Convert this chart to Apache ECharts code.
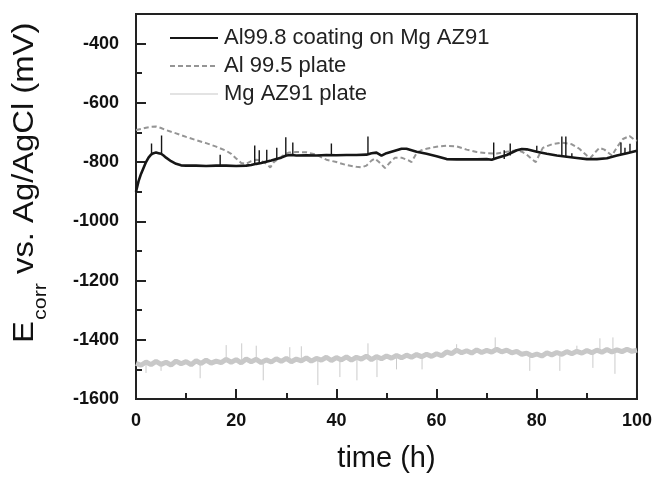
<!DOCTYPE html>
<html><head><meta charset="utf-8">
<script src="https://cdn.jsdelivr.net/npm/echarts@6/dist/echarts.min.js"></script>
<style>html,body{margin:0;padding:0;background:#fff}#c{width:655px;height:479px}</style>
</head><body><div id="c"></div>
<script>
// ---- data ----
const seriesNames = ['Al99.8 coating on Mg AZ91', 'Al 99.5 plate', 'Mg AZ91 plate'];

const coatT = [0,0.5,1,1.5,2,2.5,3,3.5,4,4.5,5,5.5,6,7,8,9,10,12,14,16,18,20,22,23,24,25,26,27,28,29,30,31,32,34,36,38,40,42,44,46,47,48,49,50,51,52,53,54,56,58,60,62,64,66,68,70,71,72,74,76,77,78,80,82,84,86,88,90,92,94,96,98,100];
const coatV = [-900,-865,-840,-820,-800,-785,-775,-770,-768,-770,-772,-778,-785,-797,-806,-811,-812,-812,-813,-812,-812,-813,-812,-810,-806,-803,-799,-795,-790,-785,-778,-776,-778,-777,-778,-776,-777,-776,-776,-775,-770,-768,-778,-770,-765,-760,-755,-755,-765,-772,-780,-790,-791,-791,-791,-790,-792,-786,-776,-760,-756,-757,-765,-772,-778,-782,-786,-790,-790,-787,-778,-770,-762];
const coatSpikeT    = [3.1,5.1,16.8,23.7,24.6,26.1,28.1,29.9,31.3,39,46.3,71.4,73.5,74.7,80,85,85.8,87,96.8,97.6,98.6];
const coatSpikeBase = [-775,-772,-812,-808,-805,-800,-792,-780,-776,-777,-776,-792,-790,-778,-765,-780,-782,-784,-776,-772,-768];
const coatSpikeTip  = [-737,-710,-775,-744,-760,-758,-752,-716,-734,-737,-714,-734,-760,-737,-745,-714,-714,-770,-734,-752,-738];

const alT = [0,1,2,3,4,5,6,8,10,12,14,16,18,19,20,21,22,23,24,25,26,26.8,27.5,28.5,29.5,30.5,32,34,36,38,40,42,44,45,46,47,47.7,48.5,49.7,50.5,51.7,53,54.5,55,56,57,58,60,62,64,66,68,70,72,74,76,77,78,79,79.8,80.5,81.2,83,85,87,88.5,90,90.7,91.5,92.5,93.5,95,96,97.2,98.5,99.3,100];
const alV = [-692,-688,-684,-681,-680,-685,-692,-703,-715,-726,-736,-748,-762,-772,-788,-803,-806,-797,-792,-795,-805,-818,-800,-788,-776,-768,-766,-767,-775,-792,-800,-810,-816,-818,-812,-795,-788,-800,-820,-805,-785,-785,-795,-800,-770,-760,-755,-748,-745,-747,-758,-766,-770,-771,-765,-760,-765,-775,-790,-800,-775,-752,-740,-734,-740,-755,-778,-786,-770,-752,-758,-778,-750,-722,-712,-722,-728];

const mgT = [0,1,2,3,4,5,6,7,8,9,10,11,12,13,14,15,16,17,18,19,20,21,22,23,24,25,26,27,28,29,30,31,32,33,34,35,36,37,38,39,40,41,42,43,44,45,46,47,48,49,50,51,52,53,54,55,56,57,58,59,60,61,62,63,64,65,66,67,68,69,70,71,72,73,74,75,76,77,78,79,80,81,82,83,84,85,86,87,88,89,90,91,92,93,94,95,96,97,98,99,100];
const mgV = [-1480,-1486,-1475,-1484,-1473,-1483,-1476,-1485,-1472,-1481,-1474,-1484,-1471,-1480,-1469,-1479,-1472,-1477,-1466,-1476,-1467,-1478,-1465,-1474,-1466,-1477,-1468,-1475,-1464,-1473,-1463,-1474,-1465,-1471,-1461,-1472,-1463,-1469,-1459,-1470,-1460,-1468,-1458,-1469,-1459,-1465,-1455,-1467,-1457,-1464,-1455,-1462,-1453,-1461,-1452,-1459,-1450,-1457,-1449,-1456,-1447,-1454,-1441,-1447,-1435,-1444,-1437,-1445,-1434,-1443,-1436,-1442,-1432,-1441,-1435,-1444,-1439,-1449,-1445,-1454,-1448,-1455,-1444,-1451,-1443,-1449,-1440,-1447,-1439,-1445,-1436,-1444,-1435,-1442,-1433,-1441,-1434,-1440,-1432,-1439,-1435];
const mgSpikeT    = [2,5,12.8,18,21.1,24,25.4,30.7,33,36.3,40.7,44.1,46.3,48.1,52,57.1,64,71.7,78.6,84.6,88,91.2,92.6,95.2,95.6];
const mgSpikeBase = [-1478,-1480,-1476,-1470,-1470,-1470,-1470,-1468,-1466,-1466,-1463,-1462,-1460,-1460,-1456,-1452,-1440,-1437,-1448,-1446,-1442,-1440,-1438,-1438,-1438];
const mgSpikeTip  = [-1512,-1505,-1530,-1418,-1412,-1420,-1537,-1425,-1422,-1553,-1526,-1537,-1412,-1526,-1500,-1500,-1415,-1392,-1505,-1505,-1420,-1495,-1395,-1392,-1515];

// ---- helpers ----
const zip = (a, b) => a.map((v, i) => [v, b[i]]);
const spikes = (t, b, p) => { const d = []; t.forEach((x, i) => { d.push([x, b[i]], [x, p[i]], [x, '-']); }); return d; };

const FONT = '"Liberation Sans", Arial, Helvetica, sans-serif';
const AX = '#222';

function measure(txt, size) {
  const c = document.createElement('canvas').getContext('2d');
  c.font = size + 'px ' + FONT;
  return c.measureText(txt).width;
}
const tMain = 29, tSub = 19;
const wE = measure('E', tMain), wC = measure('corr', tSub);

const chart = echarts.init(document.getElementById('c'), null, {renderer: 'canvas'});
const baseAxis = {
  type: 'value', splitLine: {show: false},
  axisLine: {show: true, onZero: false, lineStyle: {color: AX, width: 2}},
};
chart.setOption({
  animation: false,
  backgroundColor: '#fff',
  grid: {left: 136, right: 18, top: 14, bottom: 80, show: true, borderColor: AX, borderWidth: 2, backgroundColor: 'transparent'},
  legend: {
    orient: 'vertical', left: 164, top: 22, itemWidth: 48, itemHeight: 14, itemGap: 6,
    itemStyle: {opacity: 0},
    textStyle: {fontSize: 22, fontFamily: FONT, color: '#222', padding: [0, 0, 0, 1]},
    data: [
      {name: seriesNames[0]},
      {name: seriesNames[1]},
      {name: seriesNames[2], lineStyle: {width: 1.2}}
    ],
    selectedMode: false
  },
  xAxis: [
    Object.assign({}, baseAxis, {
      min: 0, max: 100, interval: 20, position: 'bottom',
      axisTick: {inside: true, length: 10, lineStyle: {color: AX, width: 2}},
      axisLabel: {fontSize: 18, fontWeight: 'bold', fontFamily: FONT, color: '#111', margin: 13},
      name: 'time (h)', nameLocation: 'middle', nameGap: 45,
      nameTextStyle: {fontSize: 29, fontFamily: FONT, color: '#111'}
    }),
    Object.assign({}, baseAxis, {
      min: 0, max: 100, interval: 10, position: 'bottom', offset: 0,
      axisTick: {inside: true, length: 6, lineStyle: {color: AX, width: 2}},
      axisLabel: {show: false}
    })
  ],
  yAxis: [
    Object.assign({}, baseAxis, {
      min: -1600, max: -300, interval: 200, position: 'left',
      axisTick: {inside: true, length: 10, lineStyle: {color: AX, width: 2}},
      axisLabel: {fontSize: 18, fontWeight: 'bold', fontFamily: FONT, color: '#111', margin: 17,
        formatter: v => (v % 200 === 0 ? String(v) : '')}
    }),
    Object.assign({}, baseAxis, {
      min: -1600, max: -300, interval: 100, position: 'left', offset: 0,
      axisTick: {inside: true, length: 6, lineStyle: {color: AX, width: 2}},
      axisLabel: {show: false}
    })
  ],
  series: [
    {name: seriesNames[2], type: 'line', data: zip(mgT, mgV), symbol: 'none', z: 1,
      lineStyle: {color: '#c8c8c8', width: 5}, itemStyle: {color: '#c8c8c8'}},
    {name: 'mgSpikes', type: 'line', data: spikes(mgSpikeT, mgSpikeBase, mgSpikeTip), symbol: 'none', z: 1,
      connectNulls: false, lineStyle: {color: '#cbcbcb', width: 1}, itemStyle: {color: '#cbcbcb'}},
    {name: seriesNames[1], type: 'line', data: zip(alT, alV), symbol: 'none', z: 2,
      lineStyle: {color: '#959595', width: 2, type: [5, 3]}, itemStyle: {color: '#959595'}},
    {name: seriesNames[0], type: 'line', data: zip(coatT, coatV), symbol: 'none', z: 3,
      lineStyle: {color: '#161616', width: 2.6}, itemStyle: {color: '#161616'}},
    {name: 'coatSpikes', type: 'line', data: spikes(coatSpikeT, coatSpikeBase, coatSpikeTip), symbol: 'none', z: 3,
      connectNulls: false, lineStyle: {color: '#161616', width: 1.4}, itemStyle: {color: '#161616'}}
  ],
  graphic: [{
    type: 'group', x: 25, y: 343, rotation: Math.PI / 2, scaleX: 1.13,
    children: [
      {type: 'text', x: 0, y: 0, style: {text: 'E', fontSize: tMain, fontFamily: FONT, fill: '#111', align: 'left', verticalAlign: 'middle'}},
      {type: 'text', x: wE + 1, y: 16, style: {text: 'corr', fontSize: tSub, fontFamily: FONT, fill: '#111', align: 'left', verticalAlign: 'middle'}},
      {type: 'text', x: wE + wC + 1, y: 0, style: {text: ' vs. Ag/AgCl (mV)', fontSize: tMain, fontFamily: FONT, fill: '#111', align: 'left', verticalAlign: 'middle'}}
    ]
  }]
});
</script>
</body></html>
